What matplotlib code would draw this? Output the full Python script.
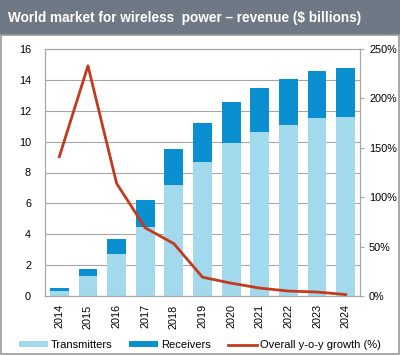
import matplotlib
matplotlib.use('Agg')
import matplotlib.pyplot as plt
from matplotlib.patches import Rectangle

years = ['2014', '2015', '2016', '2017', '2018', '2019', '2020', '2021', '2022', '2023', '2024']
transmitters = [0.35, 1.3, 2.7, 4.5, 7.2, 8.7, 9.9, 10.65, 11.1, 11.5, 11.6]
totals = [0.55, 1.75, 3.7, 6.2, 9.5, 11.2, 12.55, 13.5, 14.05, 14.55, 14.75]
receivers = [t - s for t, s in zip(totals, transmitters)]
growth = [141, 233, 114, 69, 53, 19, 13, 8, 5, 4, 1.5]

light_blue = '#a3d9ec'
dark_blue = '#0a90d0'
red = '#c23b1e'
grey = '#a6a6a6'

plt.rcParams['font.family'] = ['Liberation Sans', 'DejaVu Sans']

fig = plt.figure(figsize=(4, 3.55), dpi=100)

# title bar and panel frame
fig.patches.append(Rectangle((0, 1 - 35 / 355), 1, 35 / 355, transform=fig.transFigure,
                             facecolor='#6f7986', edgecolor='none', zorder=-2))
fig.patches.append(Rectangle((0.002, 0.002), 0.996, 1 - 35 / 355 - 0.002, transform=fig.transFigure,
                             facecolor='white', edgecolor='#9a9a9a', linewidth=1.2, zorder=-1))
fig.text(0.02, 1 - 18 / 355, 'World market for wireless  power \u2013 revenue ($ billions)',
         color='white', fontsize=9.8, fontweight='bold', va='center', ha='left')

ax = fig.add_axes([45 / 400, 1 - 296 / 355, 315 / 400, (296 - 49) / 355])
x = range(len(years))
ax.bar(x, transmitters, width=0.66, color=light_blue, label='Transmitters', zorder=2)
ax.bar(x, receivers, bottom=transmitters, width=0.66, color=dark_blue, label='Receivers', zorder=2)
ax.set_ylim(0, 16)
ax.set_yticks(range(0, 17, 2))
ax.set_xlim(-0.5, len(years) - 0.5)
ax.set_xticks(list(x))
ax.set_xticklabels(years, rotation=90)
ax.yaxis.grid(True, color=grey, linewidth=0.8, zorder=0)
ax.set_axisbelow(True)
for s in ax.spines.values():
    s.set_color(grey)
    s.set_linewidth(0.8)
ax.tick_params(axis='both', labelsize=7.8, color=grey)
ax.tick_params(axis='x', length=0, pad=6)
ax.tick_params(axis='y', length=0, pad=10)

ax2 = ax.twinx()
ax2.plot(list(x), growth, color=red, linewidth=2, label='Overall y-o-y growth (%)', zorder=3)
ax2.set_ylim(0, 250)
ax2.set_yticks(range(0, 251, 50))
ax2.set_yticklabels([f'{v}%' for v in range(0, 251, 50)])
ax2.tick_params(axis='y', labelsize=7.8, color=grey, length=3)
for s in ax2.spines.values():
    s.set_color(grey)
    s.set_linewidth(0.8)

h1, l1 = ax.get_legend_handles_labels()
h2, l2 = ax2.get_legend_handles_labels()
fig.legend(h1 + h2, l1 + l2, loc='center', bbox_to_anchor=(0.5, 1 - 345 / 355), ncol=3,
           frameon=False, fontsize=8, handlelength=2.6, handleheight=0.4,
           columnspacing=1.5, handletextpad=0.3)

fig.savefig('out.png', dpi=100)
